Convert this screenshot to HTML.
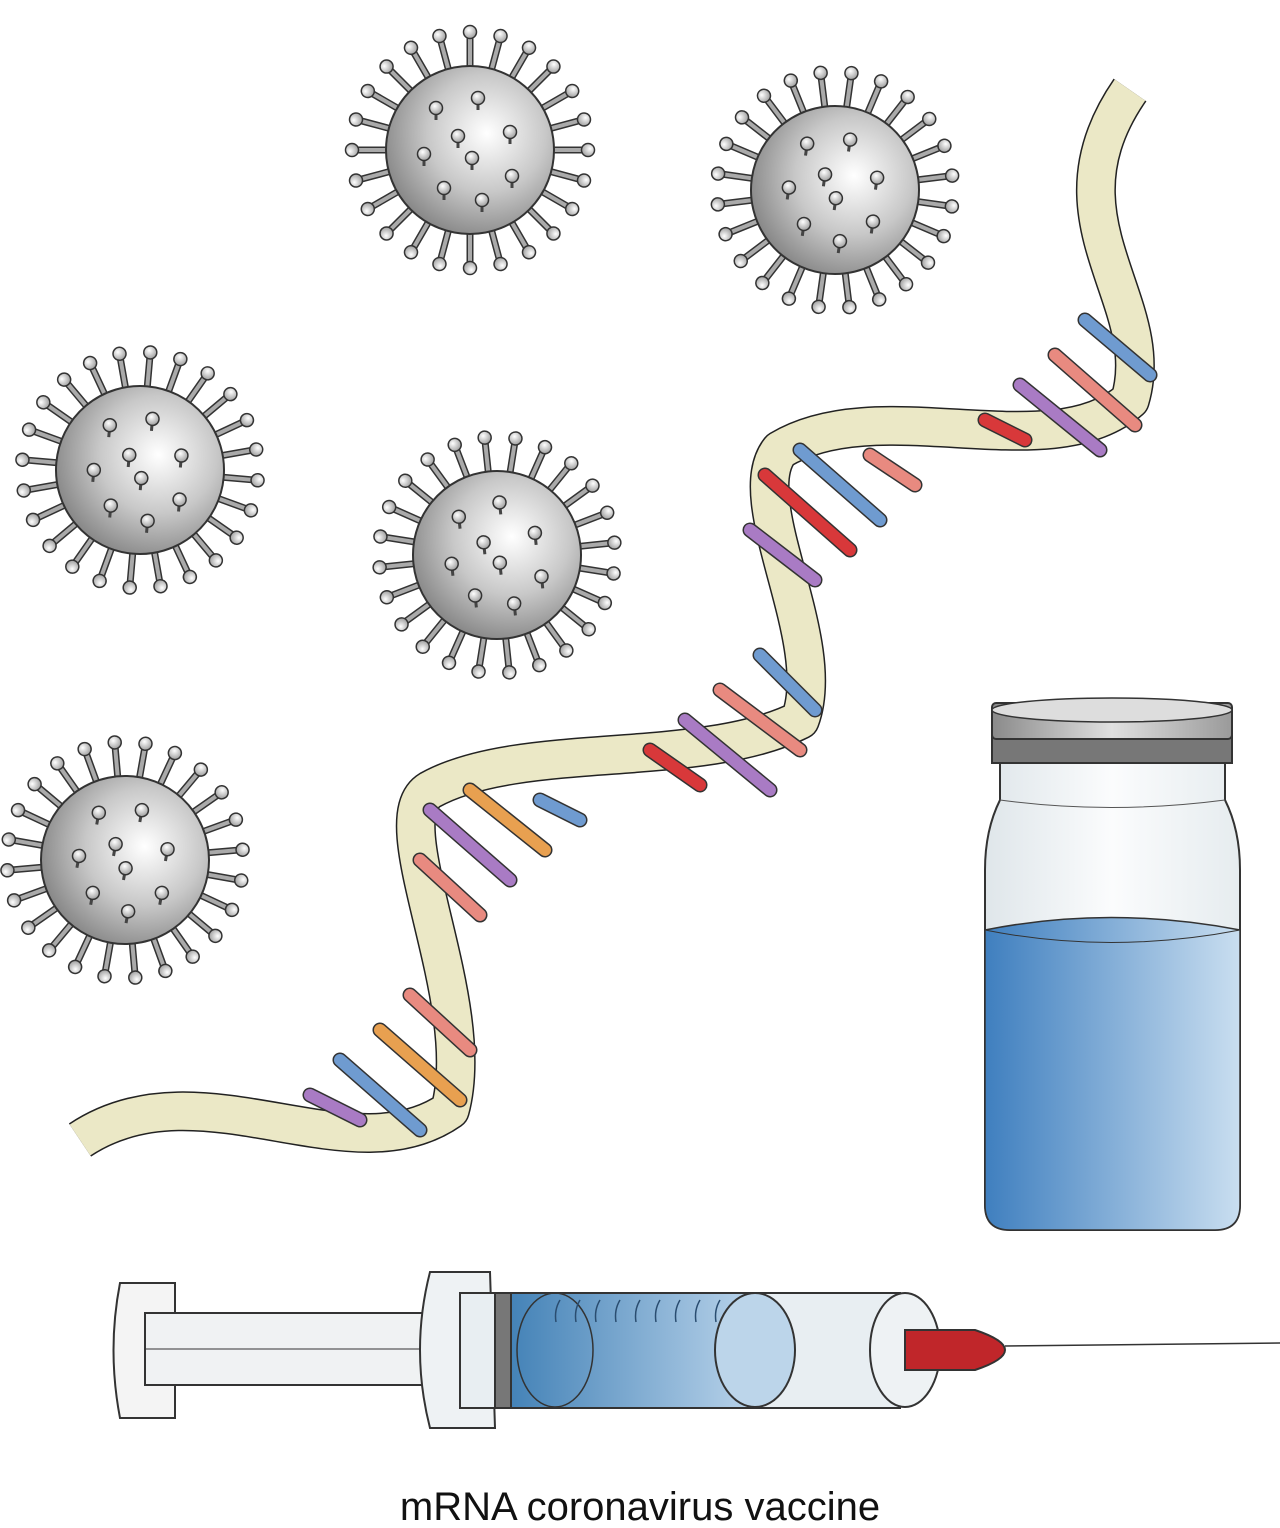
<!DOCTYPE html>
<html><head><meta charset="utf-8"><style>
html,body{margin:0;padding:0;background:#fff;}
svg{display:block;}
</style></head><body>
<svg width="1280" height="1528" viewBox="0 0 1280 1528" xmlns="http://www.w3.org/2000/svg" xmlns:xlink="http://www.w3.org/1999/xlink">
<defs>
<radialGradient id="vg" cx="0.6" cy="0.4" r="0.7">
<stop offset="0" stop-color="#ffffff"/><stop offset="0.5" stop-color="#c8c8c8"/><stop offset="1" stop-color="#7a7a7a"/>
</radialGradient>
<radialGradient id="bg" cx="0.4" cy="0.35" r="0.7">
<stop offset="0" stop-color="#ffffff"/><stop offset="1" stop-color="#9a9a9a"/>
</radialGradient>
<linearGradient id="liq" x1="0" x2="1">
<stop offset="0" stop-color="#3f7fbf"/><stop offset="1" stop-color="#c9def0"/>
</linearGradient>
<linearGradient id="glass" x1="0" x2="1">
<stop offset="0" stop-color="#dfe6ea"/><stop offset="0.5" stop-color="#fbfcfd"/><stop offset="1" stop-color="#e6ecef"/>
</linearGradient>
<linearGradient id="cap" x1="0" x2="1">
<stop offset="0" stop-color="#8a8a8a"/><stop offset="0.5" stop-color="#e0e0e0"/><stop offset="1" stop-color="#9a9a9a"/>
</linearGradient>
<linearGradient id="syl" x1="0" x2="1">
<stop offset="0" stop-color="#3f7fb5"/><stop offset="1" stop-color="#b9d3ea"/>
</linearGradient>
<g id="sp">
<line x1="0" y1="-76" x2="0" y2="-114" stroke="#333" stroke-width="7"/>
<line x1="0" y1="-76" x2="0" y2="-114" stroke="#aaa" stroke-width="4"/>
<circle cx="0" cy="-118" r="6.5" fill="url(#bg)" stroke="#333" stroke-width="1.5"/>
</g>
<g id="kn">
<line x1="0" y1="0" x2="0" y2="12" stroke="#444" stroke-width="3"/>
<circle cx="0" cy="0" r="6.5" fill="url(#bg)" stroke="#333" stroke-width="1.5"/>
</g>
<g id="vir">
<use xlink:href="#sp" transform="rotate(0)"/><use xlink:href="#sp" transform="rotate(15)"/>
<use xlink:href="#sp" transform="rotate(30)"/><use xlink:href="#sp" transform="rotate(45)"/>
<use xlink:href="#sp" transform="rotate(60)"/><use xlink:href="#sp" transform="rotate(75)"/>
<use xlink:href="#sp" transform="rotate(90)"/><use xlink:href="#sp" transform="rotate(105)"/>
<use xlink:href="#sp" transform="rotate(120)"/><use xlink:href="#sp" transform="rotate(135)"/>
<use xlink:href="#sp" transform="rotate(150)"/><use xlink:href="#sp" transform="rotate(165)"/>
<use xlink:href="#sp" transform="rotate(180)"/><use xlink:href="#sp" transform="rotate(195)"/>
<use xlink:href="#sp" transform="rotate(210)"/><use xlink:href="#sp" transform="rotate(225)"/>
<use xlink:href="#sp" transform="rotate(240)"/><use xlink:href="#sp" transform="rotate(255)"/>
<use xlink:href="#sp" transform="rotate(270)"/><use xlink:href="#sp" transform="rotate(285)"/>
<use xlink:href="#sp" transform="rotate(300)"/><use xlink:href="#sp" transform="rotate(315)"/>
<use xlink:href="#sp" transform="rotate(330)"/><use xlink:href="#sp" transform="rotate(345)"/>
<circle cx="0" cy="0" r="84" fill="url(#vg)" stroke="#333" stroke-width="2"/>
<use xlink:href="#kn" x="-34" y="-42"/><use xlink:href="#kn" x="8" y="-52"/>
<use xlink:href="#kn" x="40" y="-18"/><use xlink:href="#kn" x="-46" y="4"/>
<use xlink:href="#kn" x="2" y="8"/><use xlink:href="#kn" x="42" y="26"/>
<use xlink:href="#kn" x="-26" y="38"/><use xlink:href="#kn" x="12" y="50"/>
<use xlink:href="#kn" x="-12" y="-14"/>
</g>
</defs>

<use xlink:href="#vir" transform="translate(470,150)"/>
<use xlink:href="#vir" transform="translate(835,190) rotate(8)"/>
<use xlink:href="#vir" transform="translate(140,470) rotate(5)"/>
<use xlink:href="#vir" transform="translate(497,555) rotate(-6)"/>
<use xlink:href="#vir" transform="translate(125,860) rotate(10)"/>

<path d="M80,1140 C200,1060 350,1180 450,1110 C480,1000 380,820 430,790 C520,740 700,770 800,720 C830,640 740,500 780,450 C880,390 1050,470 1130,400 C1160,300 1040,220 1130,90" fill="none" stroke="#222" stroke-width="40" stroke-linejoin="round"/>
<path d="M80,1140 C200,1060 350,1180 450,1110 C480,1000 380,820 430,790 C520,740 700,770 800,720 C830,640 740,500 780,450 C880,390 1050,470 1130,400 C1160,300 1040,220 1130,90" fill="none" stroke="#ebe8c6" stroke-width="37" stroke-linejoin="round"/>

<g stroke-linecap="round">
<g stroke="#333" stroke-width="15">
<line x1="310" y1="1095" x2="360" y2="1120"/><line x1="340" y1="1060" x2="420" y2="1130"/>
<line x1="380" y1="1030" x2="460" y2="1100"/><line x1="410" y1="995" x2="470" y2="1050"/>
<line x1="420" y1="860" x2="480" y2="915"/><line x1="430" y1="810" x2="510" y2="880"/>
<line x1="470" y1="790" x2="545" y2="850"/><line x1="540" y1="800" x2="580" y2="820"/>
<line x1="650" y1="750" x2="700" y2="785"/><line x1="685" y1="720" x2="770" y2="790"/>
<line x1="720" y1="690" x2="800" y2="750"/><line x1="760" y1="655" x2="815" y2="710"/>
<line x1="750" y1="530" x2="815" y2="580"/><line x1="765" y1="475" x2="850" y2="550"/>
<line x1="800" y1="450" x2="880" y2="520"/><line x1="870" y1="455" x2="915" y2="485"/>
<line x1="985" y1="420" x2="1025" y2="440"/><line x1="1020" y1="385" x2="1100" y2="450"/>
<line x1="1055" y1="355" x2="1135" y2="425"/><line x1="1085" y1="320" x2="1150" y2="375"/>
</g>
<g stroke-width="12">
<line x1="310" y1="1095" x2="360" y2="1120" stroke="#a97bc4"/><line x1="340" y1="1060" x2="420" y2="1130" stroke="#6f9bd0"/>
<line x1="380" y1="1030" x2="460" y2="1100" stroke="#e8a050"/><line x1="410" y1="995" x2="470" y2="1050" stroke="#e88a80"/>
<line x1="420" y1="860" x2="480" y2="915" stroke="#e88a80"/><line x1="430" y1="810" x2="510" y2="880" stroke="#a97bc4"/>
<line x1="470" y1="790" x2="545" y2="850" stroke="#e8a050"/><line x1="540" y1="800" x2="580" y2="820" stroke="#6f9bd0"/>
<line x1="650" y1="750" x2="700" y2="785" stroke="#d8383a"/><line x1="685" y1="720" x2="770" y2="790" stroke="#a97bc4"/>
<line x1="720" y1="690" x2="800" y2="750" stroke="#e88a80"/><line x1="760" y1="655" x2="815" y2="710" stroke="#6f9bd0"/>
<line x1="750" y1="530" x2="815" y2="580" stroke="#a97bc4"/><line x1="765" y1="475" x2="850" y2="550" stroke="#d8383a"/>
<line x1="800" y1="450" x2="880" y2="520" stroke="#6f9bd0"/><line x1="870" y1="455" x2="915" y2="485" stroke="#e88a80"/>
<line x1="985" y1="420" x2="1025" y2="440" stroke="#d8383a"/><line x1="1020" y1="385" x2="1100" y2="450" stroke="#a97bc4"/>
<line x1="1055" y1="355" x2="1135" y2="425" stroke="#e88a80"/><line x1="1085" y1="320" x2="1150" y2="375" stroke="#6f9bd0"/>
</g>
</g>

<path d="M1000,760 L1000,800 Q985,830 985,870 L985,1205 Q985,1230 1010,1230 L1215,1230 Q1240,1230 1240,1205 L1240,870 Q1240,830 1225,800 L1225,760 Z" fill="url(#glass)" stroke="#333" stroke-width="2"/>
<path d="M985,930 Q1110,905 1240,930 L1240,1205 Q1240,1230 1215,1230 L1010,1230 Q985,1230 985,1205 Z" fill="url(#liq)" stroke="#333" stroke-width="1.5"/>
<path d="M985,930 Q1110,955 1240,930" fill="none" stroke="#333" stroke-width="1"/>
<path d="M1000,800 Q1110,815 1225,800" fill="none" stroke="#555" stroke-width="1"/>
<rect x="992" y="735" width="240" height="28" fill="#777" stroke="#333" stroke-width="2"/>
<rect x="992" y="703" width="240" height="36" rx="4" fill="url(#cap)" stroke="#333" stroke-width="2"/>
<ellipse cx="1112" cy="710" rx="120" ry="12" fill="#ddd" stroke="#333" stroke-width="1.5"/>

<g stroke="#333" stroke-width="2">
<path d="M120,1283 L175,1283 L175,1418 L120,1418 Q107,1350 120,1283 Z" fill="#f4f4f4"/>
<rect x="145" y="1313" width="300" height="72" fill="#f0f2f3"/>
<line x1="145" y1="1349" x2="440" y2="1349" stroke-width="1"/>
<path d="M430,1272 L490,1272 L495,1428 L430,1428 Q410,1350 430,1272 Z" fill="#eef2f4"/>
<rect x="460" y="1293" width="440" height="115" fill="#e8eef2"/>
<rect x="500" y="1293" width="255" height="115" fill="url(#syl)"/>
<rect x="495" y="1293" width="16" height="115" fill="#777"/>
<ellipse cx="555" cy="1350" rx="38" ry="57" fill="none" stroke-width="1.5"/>
<ellipse cx="755" cy="1350" rx="40" ry="57" fill="#bcd5ea"/>
<ellipse cx="905" cy="1350" rx="35" ry="57" fill="#eef2f4"/>
<path d="M905,1330 L975,1330 Q1005,1340 1005,1350 Q1005,1360 975,1370 L905,1370 Z" fill="#c0262a"/>
<line x1="1005" y1="1346" x2="1280" y2="1343" stroke-width="1.5"/>
</g>
<g fill="none" stroke="#2a4d70" stroke-width="1.5">
<path d="M560,1300 q-6,10 -4,22"/><path d="M580,1300 q-6,10 -4,22"/><path d="M600,1300 q-6,10 -4,22"/>
<path d="M620,1300 q-6,10 -4,22"/><path d="M640,1300 q-6,10 -4,22"/><path d="M660,1300 q-6,10 -4,22"/>
<path d="M680,1300 q-6,10 -4,22"/><path d="M700,1300 q-6,10 -4,22"/><path d="M720,1300 q-6,10 -4,22"/>
</g>
<text x="640" y="1520" text-anchor="middle" font-family="Liberation Sans, sans-serif" font-size="40" fill="#111">mRNA coronavirus vaccine</text>
</svg>
</body></html>
